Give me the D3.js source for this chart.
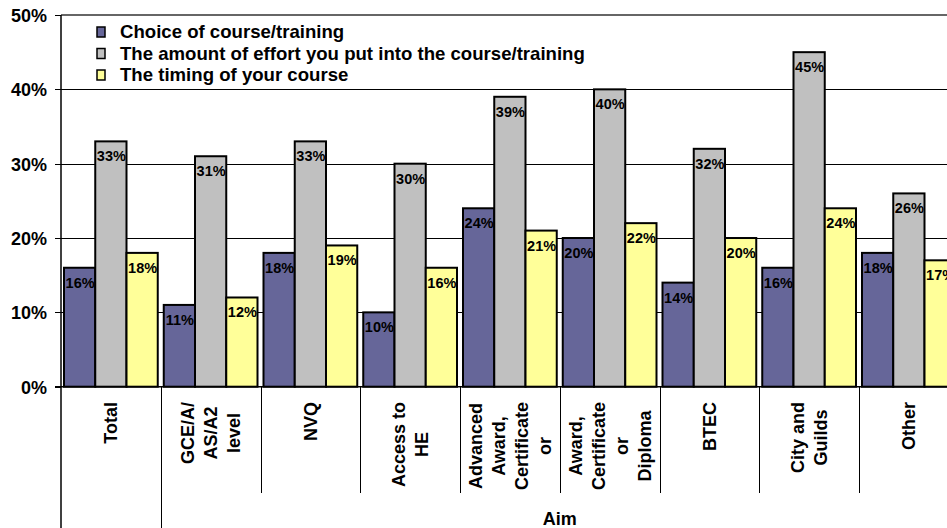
<!DOCTYPE html>
<html>
<head>
<meta charset="utf-8">
<script src="https://cdn.jsdelivr.net/npm/d3@7"></script>
<style>
	body { margin: 0; background: #fff; }
	svg { display: block; font-family: Arial, 'Liberation Sans', sans-serif; font-weight: bold; }
</style>
</head>
<body>
<div id="chart"></div>
<script>
// data
const categories = [
	['Total'],
	['GCE/A/', 'AS/A2', 'level'],
	['NVQ'],
	['Access to', 'HE'],
	['Advanced', 'Award,', 'Certificate', 'or'],
	['Award,', 'Certificate', 'or', 'Diploma'],
	['BTEC'],
	['City and', 'Guilds'],
	['Other']
];
const seriesNames = [
	'Choice of course/training',
	'The amount of effort you put into the course/training',
	'The timing of your course'
];
const choiceValues = [16, 11, 18, 10, 24, 20, 14, 16, 18];
const effortValues = [33, 31, 33, 30, 39, 40, 32, 45, 26];
const timingValues = [18, 12, 19, 16, 21, 22, 20, 24, 17];
const yTicks = [0, 10, 20, 30, 40, 50];
const groupLabel = 'Aim';

const colors = ['#666699', '#c0c0c0', '#ffff99'];
const series = [choiceValues, effortValues, timingValues];

// dimension stuff
const width = 947;
const height = 528;
const plotLeft = 61;
const plotTop = 15;
const plotBottom = 386.7;
const catW = 99.75;
const plotRight = plotLeft + catW * categories.length;

const $svg = d3.select('#chart').append('svg')
	.attr('width', width)
	.attr('height', height);

// scales
const y = d3.scaleLinear().domain([0, 50]).range([plotBottom, plotTop]);
const x0 = d3.scaleBand()
	.domain(d3.range(categories.length))
	.range([plotLeft, plotRight]);
const x1 = d3.scaleBand()
	.domain(d3.range(series.length))
	.range([3, catW - 3]);

// gridlines
$svg.append('g')
	.selectAll('line')
	.data(yTicks.filter(d => d > 0 && d < 50))
	.join('line')
	.attr('x1', plotLeft)
	.attr('x2', plotRight)
	.attr('y1', d => Math.round(y(d)) + 0.5)
	.attr('y2', d => Math.round(y(d)) + 0.5)
	.attr('stroke', '#000');

// top border
$svg.append('line')
	.attr('x1', plotLeft).attr('x2', plotRight)
	.attr('y1', y(50)).attr('y2', y(50))
	.attr('stroke', '#666').attr('stroke-width', 2);

// y axis labels + ticks
const $yAxis = $svg.append('g');
$yAxis.selectAll('line')
	.data(yTicks)
	.join('line')
	.attr('x1', plotLeft - 6)
	.attr('x2', plotLeft)
	.attr('y1', d => Math.round(y(d)) + 0.5)
	.attr('y2', d => Math.round(y(d)) + 0.5)
	.attr('stroke', '#000');
$yAxis.selectAll('text')
	.data(yTicks)
	.join('text')
	.attr('x', 47)
	.attr('y', d => y(d) + 7)
	.attr('text-anchor', 'end')
	.style('font-size', '18px')
	.text(d => `${d}%`);

// bars
const $groups = $svg.append('g')
	.selectAll('g')
	.data(categories.map((c, i) => series.map((s, j) => ({ cat: i, ser: j, value: s[i] }))))
	.join('g')
	.attr('transform', (d, i) => `translate(${x0(i)}, 0)`);

$groups.selectAll('rect')
	.data(d => d)
	.join('rect')
	.attr('x', d => x1(d.ser))
	.attr('width', x1.bandwidth())
	.attr('y', d => y(d.value))
	.attr('height', d => plotBottom - y(d.value))
	.attr('fill', d => colors[d.ser])
	.attr('stroke', '#000')
	.attr('stroke-width', 2);

$groups.selectAll('text')
	.data(d => d)
	.join('text')
	.attr('x', d => x1(d.ser) + x1.bandwidth() / 2 + 0.5)
	.attr('y', d => y(d.value) + 20)
	.attr('text-anchor', 'middle')
	.style('font-size', '14.5px')
	.text(d => `${d.value}%`);

// x axis line
$svg.append('line')
	.attr('x1', plotLeft - 6).attr('x2', plotRight)
	.attr('y1', plotBottom).attr('y2', plotBottom)
	.attr('stroke', '#000').attr('stroke-width', 1.5);

// y axis line
$svg.append('line')
	.attr('x1', plotLeft).attr('x2', plotLeft)
	.attr('y1', plotTop).attr('y2', height)
	.attr('stroke', '#000').attr('stroke-width', 1.5);

// category dividers
$svg.append('g')
	.selectAll('line')
	.data(d3.range(1, categories.length + 1))
	.join('line')
	.attr('x1', d => Math.round(plotLeft + d * catW) + 0.5)
	.attr('x2', d => Math.round(plotLeft + d * catW) + 0.5)
	.attr('y1', plotBottom)
	.attr('y2', d => (d === 1 ? height : 493))
	.attr('stroke', '#000');

// category labels (rotated, lines centered in block, block top-aligned)
const lineH = 23;
const capH = 13;
categories.forEach((lines, i) => {
	const cx = x0(i) + catW / 2;
	const $t = $svg.append('g');
	const $texts = $t.selectAll('text')
		.data(lines)
		.join('text')
		.attr('text-anchor', 'middle')
		.style('font-size', '18px')
		.text(d => d);
	const maxLen = d3.max($texts.nodes(), n => n.getComputedTextLength());
	const midY = 402 + maxLen / 2;
	$texts.attr('transform', (d, k) => {
		const bx = cx + (k - (lines.length - 1) / 2) * lineH + capH / 2;
		return `translate(${bx}, ${midY}) rotate(-90)`;
	});
});

// group label
$svg.append('text')
	.attr('x', (x0(1) + plotRight) / 2)
	.attr('y', 525)
	.attr('text-anchor', 'middle')
	.style('font-size', '18px')
	.text(groupLabel);

// legend
const $legend = $svg.append('g');
const $items = $legend.selectAll('g')
	.data(seriesNames)
	.join('g')
	.attr('transform', (d, i) => `translate(97, ${27 + i * 21.5})`);
$items.append('rect')
	.attr('width', 8)
	.attr('height', 10)
	.attr('fill', (d, i) => colors[i])
	.attr('stroke', '#000')
	.attr('stroke-width', 1.5);
$items.append('text')
	.attr('x', 23)
	.attr('y', 11)
	.style('font-size', '18.6px')
	.text(d => d);
</script>
</body>
</html>
